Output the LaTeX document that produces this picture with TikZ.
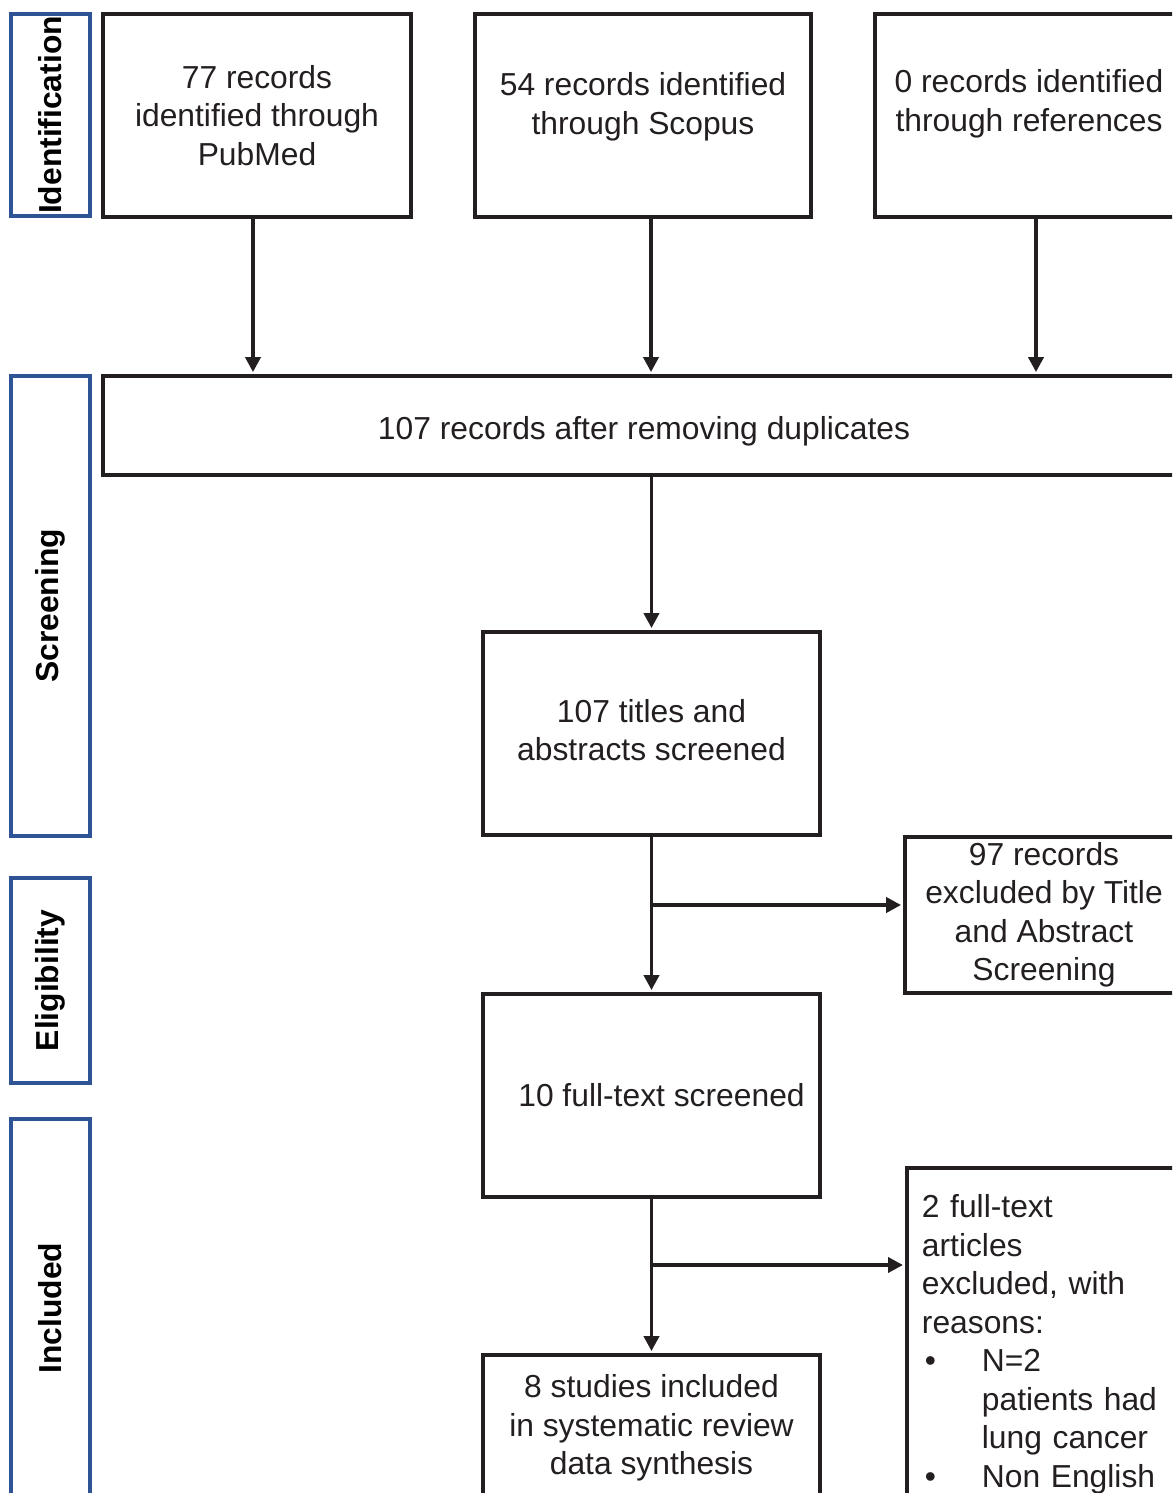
\documentclass[tikz,border=0pt]{standalone}
\usepackage{fontspec}
\setmainfont{Liberation Sans}
\usetikzlibrary{arrows.meta,positioning}
\definecolor{LineGray}{RGB}{35,31,32}
\definecolor{StageBlue}{RGB}{46,84,150}
\newcommand{\FlowFont}{\fontsize{31.8}{38.5}\selectfont}
\tikzset{
	flowbox/.style={draw=LineGray, line width=3.8pt, align=center, inner sep=0pt, text=LineGray, font=\FlowFont},
	stagebox/.style={draw=StageBlue, line width=3.5pt, rotate=90, inner sep=0pt, minimum height=79pt, text=black, font=\FlowFont\bfseries},
	flowarrow/.style={-{Triangle[length=15pt,width=15pt]}, draw=LineGray, line width=3.8pt, shorten >=2pt}
}
\begin{document}
\begin{tikzpicture}[x=1pt,y=-1pt]
					\pgfmathsetmacro{\BoxH}{203}
					\pgfmathsetmacro{\MidW}{337}
					\pgfmathsetmacro{\SideW}{278}
					\useasboundingbox (0,0) rectangle (1172,1493);
					\clip (0,0) rectangle (1172,1493);
					% STAGES
					\node[stagebox, minimum width=202pt] (identification) at (50.5,115) {Identification};
					\node[stagebox, minimum width=460pt] (screening) at (50.5,606) {Screening};
					\node[stagebox, minimum width=205pt] (eligibility) at (50.5,980.5) {Eligibility};
					\node[stagebox, minimum width=378pt] (included) at (50.5,1308) {Included};
					% SOURCES
					\node[flowbox, minimum width=308pt, minimum height=\BoxH pt] (pubmed) at (257,115.5) {77 records\\identified through\\PubMed};
					\node[flowbox, minimum width=336pt, minimum height=\BoxH pt] (scopus) at (643,115.5) {54 records identified\\through Scopus\\[-14pt]\mbox{}};
					\node[flowbox, minimum width=308pt, minimum height=\BoxH pt] (references) at (1029,115.5) {0 records identified\\through references\\[-8pt]\mbox{}};
					% MIDDLE
					\node[flowbox, minimum width=1082pt, minimum height=99pt, text height=32pt, text depth=5pt] (duplicates) at (644,425.5) {107 records after removing duplicates};
					\node[flowbox, minimum width=\MidW pt, minimum height=\BoxH pt] (titles) at (651.5,733.5) {107 titles and\\abstracts screened\\[-31pt]\mbox{}};
					\node[flowbox, minimum width=\MidW pt, minimum height=\BoxH pt] (fulltext) at (651.5,1095.5) {\hspace*{20pt}10 full-text screened};
					\node[flowbox, minimum width=\MidW pt, minimum height=146pt] (studies) at (651.5,1428) {8 studies included\\in systematic review\\data synthesis};
					% RIGHT
					\node[flowbox, minimum width=\SideW pt, minimum height=156pt] (titleexcl) at (1044,915) {97 records\\excluded by Title\\and Abstract\\Screening};
					\node[flowbox, anchor=north west, align=left, text width=248pt, inner xsep=15pt, inner ysep=27pt] (fulltextexcl) at (905,1166) {2 full-text\\articles\\excluded, with\\reasons:\\
						\hspace*{3pt}\makebox[57pt][l]{\textbullet}N=2\\
						\hspace*{60pt}patients had\\
						\hspace*{60pt}lung cancer\\
						\hspace*{3pt}\makebox[57pt][l]{\textbullet}Non English};
					\coordinate (split1) at (651.5,905);
					\coordinate (split2) at (651.5,1265);
					% ARROWS
					\draw[flowarrow] ([xshift=-4pt]pubmed.south) -- ([xshift=-4pt]pubmed.south |- duplicates.north);
					\draw[flowarrow] ([xshift=8pt]scopus.south) -- ([xshift=8pt]scopus.south |- duplicates.north);
					\draw[flowarrow] ([xshift=7pt]references.south) -- ([xshift=7pt]references.south |- duplicates.north);
					\draw[flowarrow] (titles.north |- duplicates.south) -- (titles.north);
					\draw[flowarrow] (titles.south) -- (fulltext.north);
					\draw[flowarrow] (split1) -- (split1 -| titleexcl.west);
					\draw[flowarrow] (fulltext.south) -- (studies.north);
					\draw[flowarrow] (split2) -- (split2 -| fulltextexcl.west);
				\end{tikzpicture}
\end{document}
